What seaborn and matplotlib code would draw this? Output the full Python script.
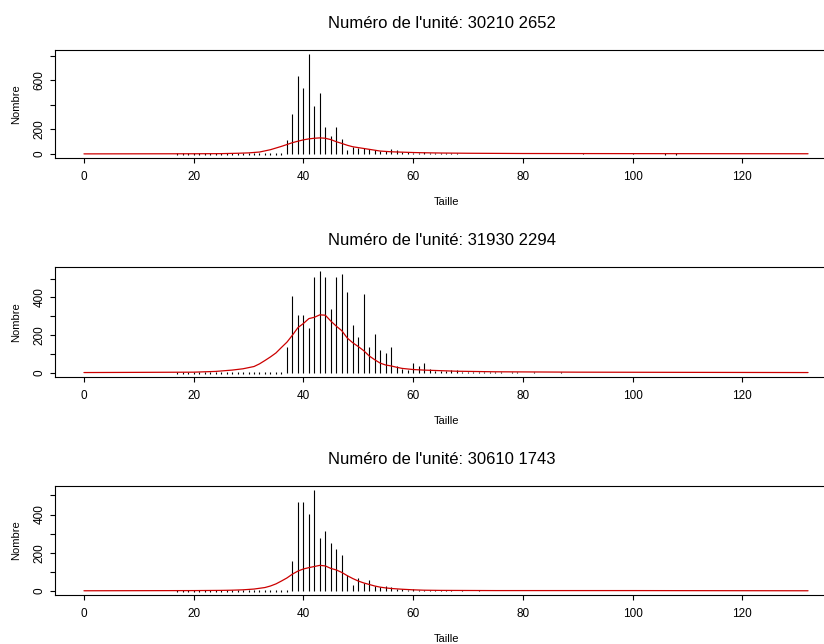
import numpy as np
import pandas as pd
import matplotlib
matplotlib.use("Agg")
import matplotlib.pyplot as plt
import seaborn as sns

# Length classes observed (cm) and number of fish per class, one list per unit
sizes = list(range(17, 111))

units = ["30210 2652", "31930 2294", "30610 1743"]

counts_30210 = (
    [0] * 20
    + [117, 325, 637, 533, 813, 392, 499, 219, 147, 219, 118, 30, 57, 50, 46,
       37, 32, 26, 26, 42, 30, 18, 15, 12, 10, 20, 9, 8, 8]
    + [6, 5, 6, 4, 3, 4, 3, 3, 2, 3, 2, 2, 3, 2, 2, 2, 3, 2, 2, 2,
       2, 2, 2, 2, 3, 6, 2, 2, 2, 2, 2, 2, 2, 2, 5, 2, 2, 2, 2, 2,
       0, 2, 0, 2, 2]
)

counts_31930 = (
    [0] * 20
    + [139, 409, 306, 306, 240, 510, 540, 510, 341, 510, 524, 427, 254, 190,
       421, 139, 204, 121, 103, 139, 39, 21, 18, 53, 39, 53, 21, 12, 9, 9, 18, 14]
    + [6, 5, 4, 5, 3, 4, 3, 3, 2, 3, 3, 2, 2, 3, 2, 2, 2, 2, 3, 2,
       2, 2, 2, 2, 2, 2, 2, 2, 2, 2, 2, 2, 2, 2, 2, 2, 2, 2, 2, 2,
       2, 2]
)

counts_30610 = (
    [0] * 21
    + [156, 467, 467, 405, 528, 279, 312, 249, 217, 186, 84, 33, 67, 42, 59,
       28, 23, 28, 19, 11, 12, 7, 9, 5, 4]
    + [4, 3, 4, 3, 3, 2, 3, 2, 2, 3, 2, 2, 2, 2, 2, 2, 2, 2, 2, 2,
       2, 2, 2, 2, 2, 2, 2, 2, 2, 2, 2, 2, 2, 2, 2, 2, 2, 2, 2, 2,
       2, 2, 2, 2, 2, 2, 2, 2]
)

# Reference (smoothed) length distribution for each unit
curve_x_30210 = [0, 20, 25, 28, 30, 32, 34, 36, 37, 38, 39, 40, 41, 42, 43, 44,
                 45, 46, 47, 48, 49, 50, 52, 54, 56, 58, 60, 62, 65, 70, 80, 100, 132]
curve_y_30210 = [1, 2, 3, 6, 9, 16, 35, 62, 77, 92, 104, 115, 123, 128, 131, 128,
                 117, 100, 86, 71, 59, 52, 38, 24, 18, 15, 12, 10, 8, 6, 4, 3, 2]

curve_x_31930 = [0, 20, 24, 27, 29, 31, 32, 33, 34, 35, 36, 37, 38, 39, 40, 41,
                 42, 43, 44, 45, 46, 47, 48, 49, 50, 51, 52, 53, 54, 55, 56, 57,
                 58, 60, 62, 64, 68, 75, 90, 110, 132]
curve_y_31930 = [2, 4, 8, 15, 22, 34, 48, 66, 85, 106, 135, 163, 200, 240, 262, 288,
                 295, 308, 306, 275, 248, 224, 185, 160, 140, 118, 90, 70, 52, 42, 37, 30,
                 24, 18, 15, 13, 9, 6, 4, 3, 2]

curve_x_30610 = [0, 20, 25, 27, 29, 31, 33, 34, 35, 36, 37, 38, 39, 40, 41, 42,
                 43, 44, 45, 46, 47, 48, 49, 50, 51, 52, 53, 54, 55, 56, 58, 60,
                 62, 65, 75, 100, 132]
curve_y_30610 = [1, 2, 3, 4, 6, 10, 18, 26, 37, 52, 68, 88, 104, 115, 122, 128,
                 134, 131, 118, 110, 97, 80, 65, 52, 42, 34, 26, 20, 16, 13, 9, 6,
                 4, 3, 2, 2, 1]

panels = [
    (units[0], counts_30210, curve_x_30210, curve_y_30210, [0, 200, 400, 600, 800], ["0", "200", "", "600", ""]),
    (units[1], counts_31930, curve_x_31930, curve_y_31930, [0, 100, 200, 300, 400, 500], ["0", "", "200", "", "400", ""]),
    (units[2], counts_30610, curve_x_30610, curve_y_30610, [0, 100, 200, 300, 400, 500], ["0", "", "200", "", "400", ""]),
]

x_ticks = [0, 20, 40, 60, 80, 100, 120]
x_max = 132

sns.set_style("ticks")
plt.rcParams["font.family"] = ["Liberation Sans", "DejaVu Sans"]
plt.rcParams["axes.edgecolor"] = "black"
plt.rcParams["axes.linewidth"] = 0.8
plt.rcParams["text.color"] = "black"
plt.rcParams["axes.labelcolor"] = "black"
plt.rcParams["xtick.color"] = "black"
plt.rcParams["ytick.color"] = "black"

W, H = 824, 644
fig = plt.figure(figsize=(W / 100, H / 100), dpi=100)

# (bottom edge, height) of each plotting box, in pixels
boxes = [(158, 108), (377, 110), (595, 109)]

for (unit, counts, cx, cy, yt, ytl), (bot, hgt) in zip(panels, boxes):
    ax = fig.add_axes([55 / W, 1 - bot / H, 782 / W, hgt / H])
    df = pd.DataFrame({"taille": sizes, "nombre": counts})
    nz = df[df["nombre"] > 0]
    zr = df[df["nombre"] == 0]

    ax.vlines(nz["taille"], 0, nz["nombre"], color="black", lw=0.8)
    ax.plot(zr["taille"], zr["nombre"], ls="none", marker="|", ms=1.6,
            mew=0.8, color="black")
    sns.lineplot(x=cx, y=cy, color="#CC0000", lw=0.9, ax=ax)

    m = df["nombre"].max()
    ax.set_ylim(-0.04 * m, 1.04 * m)
    ax.set_xlim(-0.04 * x_max, 1.04 * x_max)

    ax.set_xticks(x_ticks)
    ax.set_xticklabels([str(t) for t in x_ticks])
    ax.set_yticks(yt)
    ax.set_yticklabels(ytl, rotation=90, va="center")
    ax.tick_params(axis="both", direction="out", length=3.6, width=0.8,
                   labelsize=8.5, color="black", labelcolor="black")
    ax.tick_params(axis="x", pad=6)
    ax.tick_params(axis="y", pad=3)

    ax.set_title(f"Numéro de l'unité: {unit}", fontsize=12, pad=16,
                 color="black", x=0.495)
    ax.set_xlabel("Taille", fontsize=8, labelpad=10)
    ax.set_ylabel("Nombre", fontsize=8, labelpad=9)
    for s in ax.spines.values():
        s.set_visible(True)
        s.set_color("black")
        s.set_linewidth(0.8)

fig.savefig("out.png", dpi=100)
